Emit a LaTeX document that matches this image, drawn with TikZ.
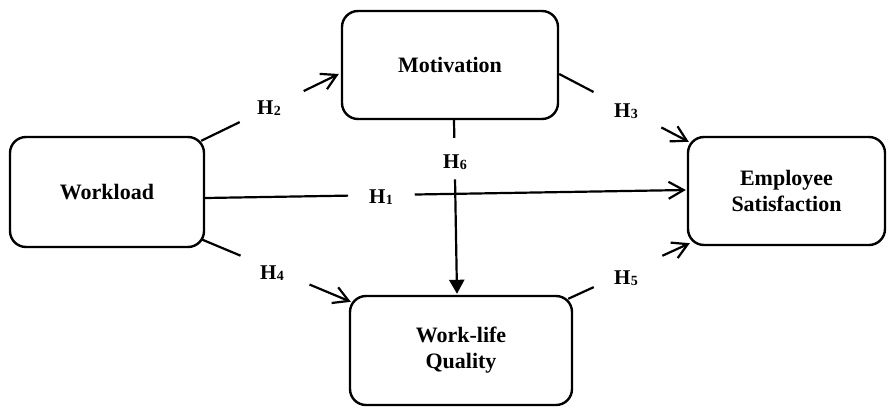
\documentclass[tikz,border=0pt]{standalone}
\usepackage{fontspec}
\setmainfont{Liberation Serif}
\usetikzlibrary{arrows.meta,calc}
\newcommand{\hyp}[1]{H\kern0.3pt\raisebox{-1.2pt}{\fontsize{14}{14}\selectfont #1}}
\begin{document}
\begin{tikzpicture}[x=1pt,y=-1pt,
  box/.style={draw, line width=2.4pt, rounded corners=16pt, align=center,
    font=\fontsize{22}{26}\selectfont\bfseries, inner sep=0pt},
  conn/.style={line width=2.2pt},
  barb/.style={-{Straight Barb[length=15pt,width=17pt]}},
  tri/.style={-{Triangle[length=14pt,width=15pt]}},
  hl/.style={font=\fontsize{21}{22}\selectfont\bfseries, inner sep=0pt}]
\useasboundingbox (0,0) rectangle (888,410);

\node[box, minimum width=194pt, minimum height=110pt] (wl) at (107,192) {Workload};
\node[box, minimum width=216pt, minimum height=108pt] (mo) at (450,65) {Motivation};
\node[box, minimum width=197pt, minimum height=108pt] (es) at (786.5,191) {Employee\\Satisfaction};
\node[box, minimum width=222pt, minimum height=109pt] (wq) at (461,350.5) {Work-life\\Quality};

% endpoints
\coordinate (s1) at ($(wl.east)+(0,6)$);
\coordinate (t1) at ($(es.west)+(-1,-1)$);
\coordinate (s2) at ($(wl.north east)+(-4,5)$);
\coordinate (t2) at ($(mo.west)+(-2,9)$);
\coordinate (s3) at ($(mo.east)+(0,9)$);
\coordinate (t3) at ($(es.north west)+(2,6)$);
\coordinate (s4) at ($(wl.south east)+(-4,-9)$);
\coordinate (t4) at ($(wq.north west)+(2,7)$);
\coordinate (s5) at ($(wq.north east)+(-5,4)$);
\coordinate (t5) at ($(es.south west)+(3,-3)$);
\coordinate (s6) at ($(mo.south)+(4,0)$);
\coordinate (t6) at ($(wq.north)+(-4,-1)$);

% H1
\draw[conn] (s1) -- ($(s1)!0.2975!(t1)$);
\draw[conn,barb] ($(s1)!0.436!(t1)$) -- (t1);
\node[hl] (h1) at (381,197) {\hyp{1}};
% H2
\draw[conn] (s2) -- ($(s2)!0.28!(t2)$);
\draw[conn,barb] ($(s2)!0.745!(t2)$) -- (t2);
\node[hl] (h2) at (269,108) {\hyp{2}};
% H3
\draw[conn] (s3) -- ($(s3)!0.265!(t3)$);
\draw[conn,barb] ($(s3)!0.788!(t3)$) -- (t3);
\node[hl] (h3) at (626,111) {\hyp{3}};
% H4
\draw[conn] (s4) -- ($(s4)!0.263!(t4)$);
\draw[conn,barb] ($(s4)!0.724!(t4)$) -- (t4);
\node[hl] (h4) at (272,273) {\hyp{4}};
% H5
\draw[conn] (s5) -- ($(s5)!0.21!(t5)$);
\draw[conn,barb] ($(s5)!0.774!(t5)$) -- (t5);
\node[hl] (h5) at (626,278) {\hyp{5}};
% H6
\draw[conn] (s6) -- ($(s6)!0.102!(t6)$);
\draw[conn,tri] ($(s6)!0.341!(t6)$) -- (t6);
\node[hl] (h6) at (455,162) {\hyp{6}};
\end{tikzpicture}
\end{document}
